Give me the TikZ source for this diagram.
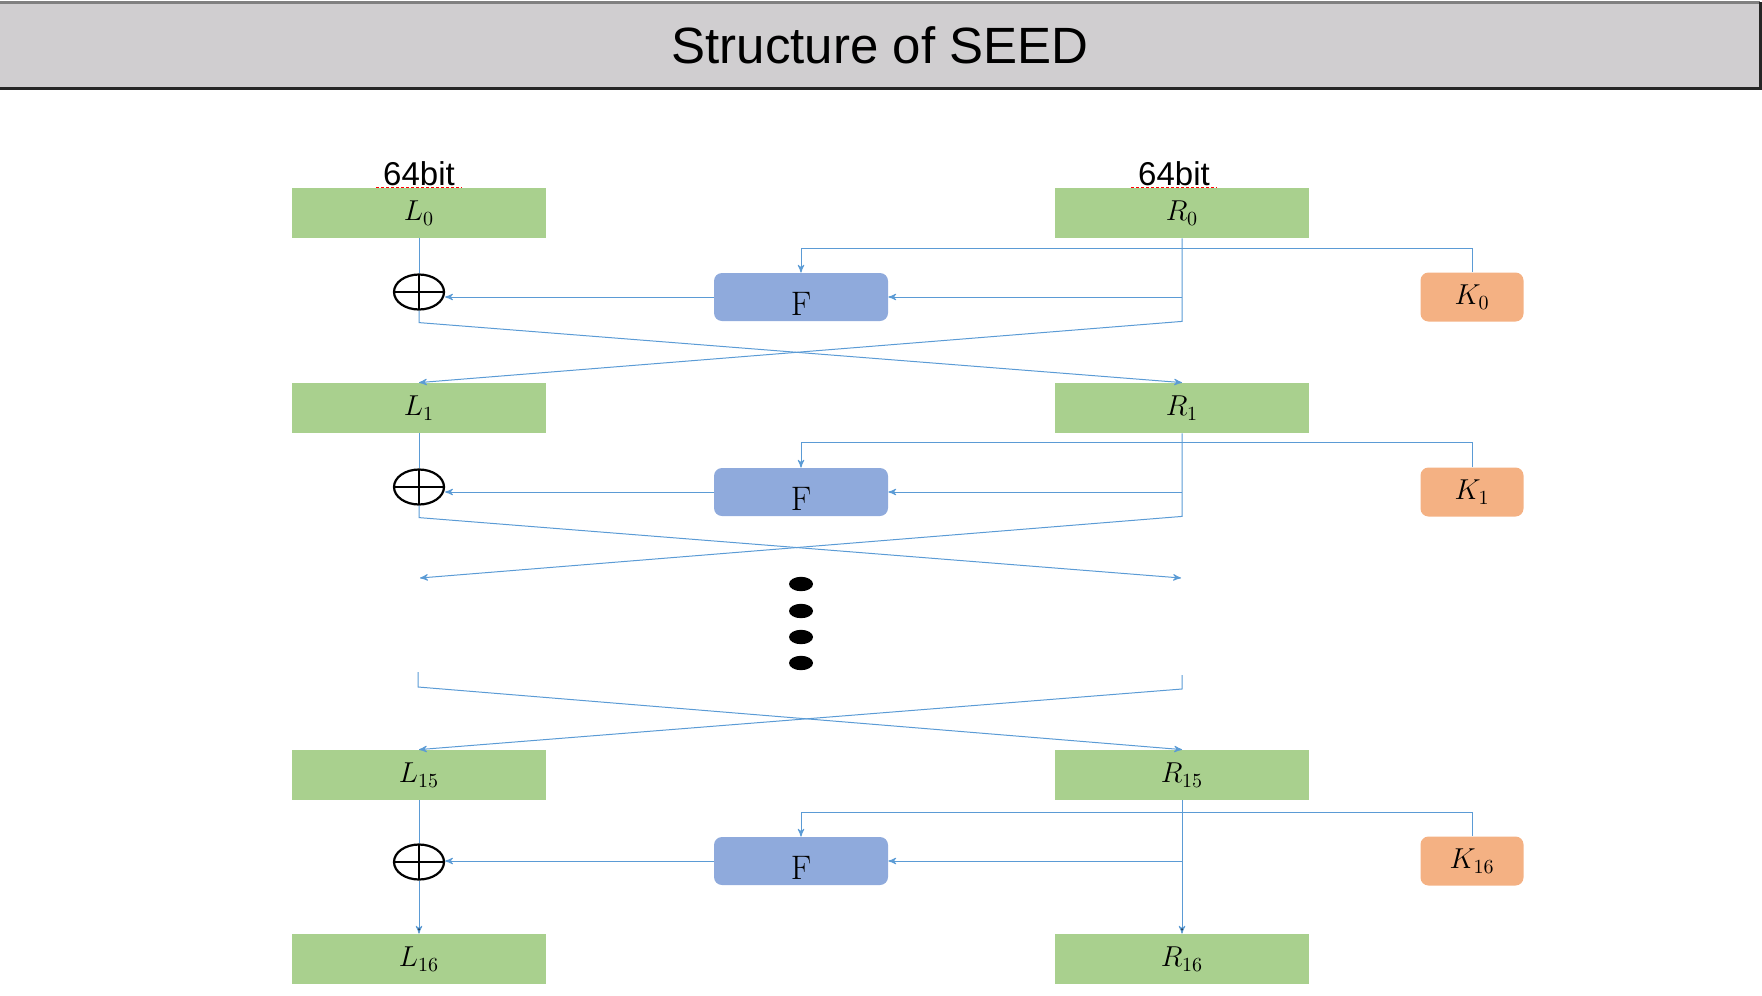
\documentclass[tikz,border=0pt]{standalone}
\usepackage{fontspec}
\newfontfamily\arialfont{Liberation Sans}
\usetikzlibrary{arrows,shapes}
\definecolor{boxgreen}{RGB}{169,208,142}
\definecolor{fblue}{RGB}{143,170,220}
\definecolor{korange}{RGB}{244,177,131}
\definecolor{linkblue}{RGB}{91,155,213}
\definecolor{titlegray}{RGB}{208,206,208}

\begin{document}
\begin{tikzpicture}[x=0.5pt,y=-0.5pt,>=stealth',font=\fontsize{14.4}{17}\selectfont,
  half/.style={rectangle,fill=boxgreen,minimum width=127pt,minimum height=25pt,inner sep=0pt},
  func/.style={rectangle,rounded corners=4pt,fill=fblue,minimum width=87pt,minimum height=24pt,inner sep=0pt,
    text height=18pt,text depth=0pt,font=\fontsize{17}{20}\selectfont},
  key/.style={rectangle,rounded corners=4pt,fill=korange,minimum width=51.5pt,minimum height=24.5pt,inner sep=0pt},
  xor/.style={ellipse,draw,line width=1.1pt,minimum width=25pt,minimum height=17.5pt,inner sep=0pt,
    path picture={\draw[line width=1.1pt] (path picture bounding box.north) -- (path picture bounding box.south)
      (path picture bounding box.west) -- (path picture bounding box.east);}},
  wire/.style={draw=linkblue,line width=0.5pt},
  bits/.style={anchor=base,font=\arialfont\fontsize{16.5}{18}\selectfont}]
  \useasboundingbox (0,0) rectangle (1762,996);

  \fill[titlegray] (0,2) rectangle (1760,88);
  \draw[line width=1.5pt,black!50] (0,2) -- (1760,2);
  \draw[line width=1.5pt,black!85] (0,88) -- (1760,88) -- (1760,2);
  \node[anchor=base,font=\arialfont\fontsize{25.5}{30}\selectfont] (title) at (880,63) {Structure of SEED};

  \node[bits] (b0) at (419,185) {64bit};
  \node[bits] (b1) at (1174,185) {64bit};
  \draw[red,line width=1.5pt,dash pattern=on 1.5pt off 1pt] ([yshift=-1.5pt]b0.base west) -- ([yshift=-1.5pt]b0.base east);
  \draw[red,line width=1.5pt,dash pattern=on 1.5pt off 1pt] ([yshift=-1.5pt]b1.base west) -- ([yshift=-1.5pt]b1.base east);

  \node[half] (L0)  at (419, 213) {$L_0$};
  \node[half] (R0)  at (1182,213) {$R_0$};
  \node[xor]  (X0)  at (419, 292) {};
  \node[func] (F0)  at (801, 297) {F};
  \node[key]  (K0)  at (1472,297) {$K_0$};
  \node[half] (L1)  at (419, 408) {$L_1$};
  \node[half] (R1)  at (1182,408) {$R_1$};
  \node[xor]  (X1)  at (419, 487) {};
  \node[func] (F1)  at (801, 492) {F};
  \node[key]  (K1)  at (1472,492) {$K_1$};
  \node[half] (L15) at (419, 775) {$L_{15}$};
  \node[half] (R15) at (1182,775) {$R_{15}$};
  \node[xor]  (X16) at (419, 862) {};
  \node[func] (F16) at (801, 861) {F};
  \node[key]  (K16) at (1472,861) {$K_{16}$};
  \node[half] (L16) at (419, 959) {$L_{16}$};
  \node[half] (R16) at (1182,959) {$R_{16}$};

  \coordinate (a2)  at (420,578);
  \coordinate (b2)  at (1181,578);
  \coordinate (c15) at (418,672);
  \coordinate (d15) at (1182,675);

  \path[wire] (L0) edge (X0);
  \draw[wire,->] (K0.north) -- ++(0,-24) -| (F0.north);
  \draw[wire,->] (R0.south |- F0) -- (F0.east);
  \draw[wire,->] (F0.west) -- (F0.west -| X0.east);
  \draw[wire,->] (X0.south) -- ++(0,12) -- (R1.north);
  \draw[wire,->] (R0.south) -- ++(0,83) -- (L1.north);

  \path[wire] (L1) edge (X1);
  \draw[wire,->] (K1.north) -- ++(0,-25) -| (F1.north);
  \draw[wire,->] (R1.south |- F1) -- (F1.east);
  \draw[wire,->] (F1.west) -- (F1.west -| X1.east);
  \draw[wire,->] (X1.south) -- ++(0,12) -- (b2);
  \draw[wire,->] (R1.south) -- ++(0,83) -- (a2);

  \foreach \y in {584,611,637,663}
    \fill (801,\y) ellipse [x radius=6pt,y radius=3.6pt];

  \draw[wire,->] (c15) -- ++(0,15) -- (R15.north);
  \draw[wire,->] (d15) -- ++(0,14) -- (L15.north);

  \path[wire] (L15) edge (X16);
  \path[wire,->] (X16) edge (L16);
  \path[wire,->] (R15) edge (R16);
  \draw[wire,->] (K16.north) -- ++(0,-24) -| (F16.north);
  \draw[wire,->] (R15.south |- F16) -- (F16.east);
  \draw[wire,->] (F16.west) -- (F16.west -| X16.east);
\end{tikzpicture}
\end{document}
